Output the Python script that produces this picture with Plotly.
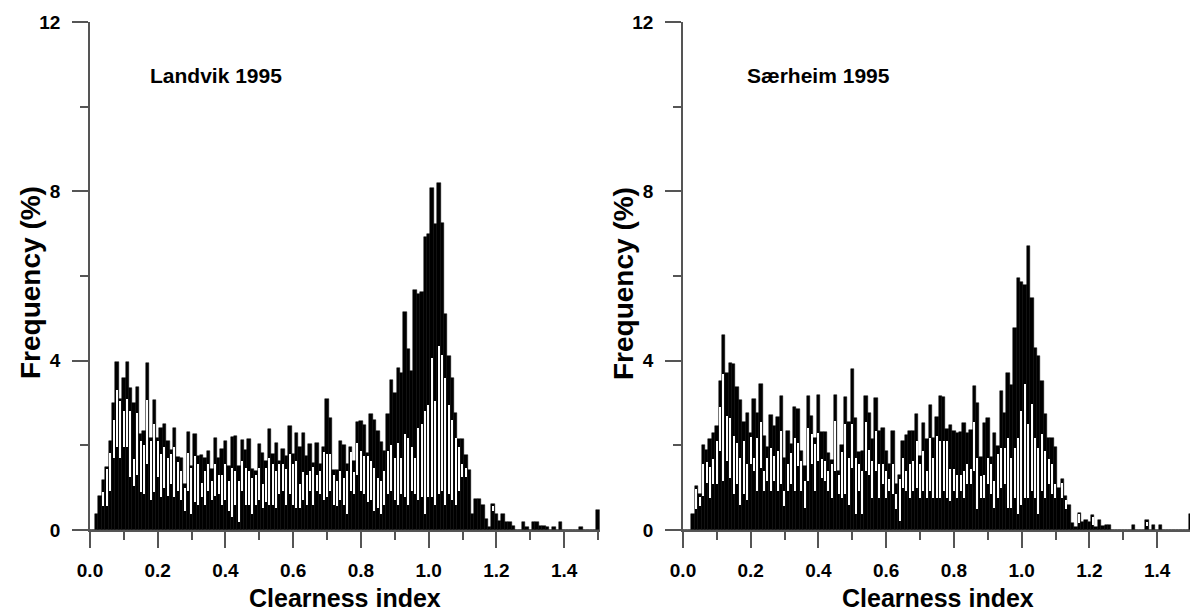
import plotly.graph_objects as go

# bin centres of the clearness-index histogram (0.00 ... 1.50, step 0.01)
BINS = [round(i * 0.01, 2) for i in range(151)]

# ---- Landvik 1995 : bar tops (%), white-stripe top and bottom (%)
L_TOP = [
    0, 0, 0.38, 0.81, 1.18, 1.50, 2.10, 3.00, 3.97, 3.10,
    3.60, 3.98, 3.36, 3.00, 3.38, 2.26, 2.35, 3.95, 2.18, 3.08,
    2.18, 2.42, 2.50, 2.10, 1.90, 2.40, 1.73, 1.70, 1.08, 2.31,
    1.51, 2.26, 1.75, 1.77, 1.70, 1.87, 1.44, 2.18, 1.71, 1.92,
    2.10, 1.51, 2.20, 2.22, 1.51, 2.13, 1.88, 2.16, 1.44, 1.40,
    2.02, 1.83, 1.63, 2.38, 1.79, 2.06, 1.63, 1.92, 1.75, 2.45,
    1.79, 2.30, 1.95, 2.30, 1.75, 2.04, 1.59, 2.06, 1.57, 1.96,
    3.10, 2.64, 1.41, 1.41, 2.10, 2.00, 1.55, 1.96, 1.63, 2.56,
    2.57, 2.47, 1.83, 2.75, 2.61, 2.34, 2.09, 1.87, 2.73, 3.55,
    3.24, 3.83, 3.71, 5.15, 4.27, 3.75, 5.68, 5.57, 5.62, 6.91,
    7.00, 8.08, 7.22, 8.20, 7.26, 5.10, 4.12, 3.59, 2.76, 2.16,
    2.14, 1.76, 1.41, 0.38, 0.73, 0.73, 0.60, 0.26, 0.06, 0.61,
    0.38, 0.22, 0.38, 0.18, 0.18, 0.10, 0, 0, 0.18, 0.08,
    0, 0.20, 0.20, 0.10, 0.10, 0.06, 0, 0.08, 0, 0.18,
    0, 0, 0, 0, 0, 0.08, 0, 0, 0, 0,
    0.47,
]
L_WTOP = [
    0, 0, 0, 0, 0.90, 1.45, 1.83, 2.60, 3.30, 3.05,
    2.80, 3.10, 2.80, 1.67, 2.77, 2.10, 2.00, 3.08, 2.10, 2.50,
    2.10, 1.80, 1.95, 1.70, 1.80, 1.95, 1.60, 1.40, 1.00, 1.83,
    1.47, 1.75, 1.55, 1.12, 1.40, 1.55, 1.16, 1.55, 1.30, 1.30,
    1.55, 1.16, 1.47, 1.40, 1.16, 1.63, 1.47, 1.40, 1.24, 1.30,
    1.47, 1.08, 1.47, 1.70, 1.55, 1.40, 1.55, 1.55, 1.44, 1.79,
    1.55, 1.63, 1.08, 1.36, 1.30, 1.40, 1.50, 1.30, 1.40, 1.85,
    1.79, 1.79, 1.30, 1.16, 1.40, 1.24, 1.40, 1.85, 1.36, 2.06,
    1.87, 1.75, 1.75, 1.63, 1.47, 1.24, 1.16, 1.40, 1.87, 2.00,
    1.70, 2.06, 1.70, 2.26, 2.18, 1.95, 1.70, 2.42, 2.50, 2.80,
    2.96, 4.06, 3.04, 4.34, 4.14, 3.60, 2.96, 2.60, 2.18, 1.95,
    1.55, 1.47, 0, 0, 0, 0, 0, 0, 0, 0.57,
    0, 0, 0, 0, 0, 0, 0, 0, 0, 0,
    0, 0, 0, 0, 0, 0, 0, 0, 0, 0,
    0, 0, 0, 0, 0, 0, 0, 0, 0, 0,
    0,
]
L_WBOT = [
    0, 0, 0, 0, 0.57, 0.57, 0.93, 1.70, 1.95, 1.70,
    1.95, 1.95, 1.25, 1.05, 1.30, 0.90, 0.85, 1.55, 0.70, 0.90,
    1.25, 0.77, 1.00, 0.80, 1.08, 0.77, 0.93, 0.70, 0.45, 0.93,
    0.38, 0.65, 0.60, 0.77, 0.60, 0.93, 0.70, 0.80, 0.85, 0.60,
    0.70, 0.45, 0.30, 0.60, 0.18, 0.93, 0.60, 0.60, 0.38, 0.60,
    0.70, 0.53, 0.65, 0.60, 0.60, 0.53, 0.85, 0.93, 0.60, 0.85,
    0.60, 0.53, 0.53, 0.70, 0.60, 0.93, 0.60, 0.93, 0.85, 0.70,
    0.77, 0.93, 0.60, 0.57, 0.70, 0.60, 0.38, 0.93, 0.85, 1.30,
    0.93, 0.85, 0.65, 0.70, 0.45, 0.53, 0.38, 0.60, 0.85, 0.93,
    0.70, 0.60, 0.85, 0.77, 0.60, 0.93, 0.85, 0.70, 0.77, 0.38,
    0.77, 0.77, 0.60, 0.85, 0.93, 0.60, 0.85, 0.70, 0.60, 0.93,
    1.25, 1.25, 0, 0, 0, 0, 0, 0, 0, 0.45,
    0, 0, 0, 0, 0, 0, 0, 0, 0, 0,
    0, 0, 0, 0, 0, 0, 0, 0, 0, 0,
    0, 0, 0, 0, 0, 0, 0, 0, 0, 0,
    0,
]

# ---- Særheim 1995
R_TOP = [
    0, 0, 0, 0.37, 1.04, 0.84, 2.00, 1.90, 2.14, 2.30,
    2.46, 3.52, 4.60, 3.70, 3.95, 3.92, 3.38, 3.07, 2.56, 2.76,
    2.30, 3.09, 2.77, 3.46, 2.22, 1.96, 2.71, 2.46, 2.68, 3.17,
    1.71, 2.35, 2.02, 2.90, 2.85, 1.87, 1.51, 3.16, 2.69, 2.18,
    3.20, 2.31, 2.31, 1.83, 1.66, 3.20, 1.39, 2.00, 3.15, 2.54,
    3.80, 2.64, 1.85, 1.87, 3.17, 2.77, 2.14, 3.11, 2.34, 2.40,
    1.87, 1.55, 2.35, 1.08, 1.30, 2.10, 2.24, 2.35, 2.35, 2.75,
    1.75, 2.52, 2.14, 2.95, 2.17, 2.67, 3.16, 3.15, 2.38, 2.47,
    2.35, 2.30, 2.31, 2.52, 2.30, 2.36, 3.40, 3.00, 1.73, 2.52,
    2.65, 1.73, 2.28, 1.98, 3.28, 2.77, 3.72, 3.43, 4.78, 5.96,
    5.87, 5.79, 6.72, 5.49, 4.29, 4.11, 3.52, 2.73, 2.18, 2.17,
    1.96, 1.00, 1.20, 0.80, 0.59, 0.17, 0.06, 0.41, 0.20, 0.24,
    0.20, 0.35, 0.06, 0.23, 0.10, 0.11, 0.11, 0, 0, 0,
    0, 0, 0, 0.11, 0, 0, 0, 0.24, 0, 0.11,
    0, 0.11, 0, 0, 0, 0, 0, 0, 0, 0,
    0.37,
]
R_WTOP = [
    0, 0, 0, 0, 0.96, 0.78, 1.55, 1.60, 1.50, 1.67,
    2.10, 2.90, 3.68, 2.70, 2.65, 2.22, 2.06, 1.71, 2.10, 1.55,
    2.20, 1.71, 2.18, 2.54, 1.39, 1.71, 1.94, 1.75, 1.87, 2.34,
    0.92, 1.55, 1.83, 2.18, 2.06, 1.63, 1.16, 2.42, 2.26, 2.02,
    2.30, 1.67, 1.63, 1.39, 1.55, 2.57, 1.31, 1.85, 2.50, 1.71,
    2.50, 1.71, 1.55, 1.39, 2.54, 1.90, 1.63, 2.34, 1.55, 1.55,
    1.39, 1.20, 1.55, 0.84, 1.20, 1.71, 1.39, 1.55, 1.63, 2.10,
    1.55, 1.87, 1.39, 2.18, 1.71, 2.22, 2.10, 2.10, 2.10, 1.43,
    1.43, 1.31, 1.31, 1.39, 1.55, 1.43, 2.54, 1.71, 1.28, 1.31,
    1.71, 1.55, 1.16, 1.79, 1.94, 1.94, 2.18, 1.71, 1.94, 2.18,
    2.81, 3.44, 2.50, 2.97, 2.18, 1.94, 2.26, 1.87, 1.67, 1.55,
    1.08, 0, 1.12, 0.70, 0, 0, 0, 0.37, 0, 0,
    0, 0.31, 0, 0, 0, 0, 0, 0, 0, 0,
    0, 0, 0, 0, 0, 0, 0, 0.20, 0, 0,
    0, 0, 0, 0, 0, 0, 0, 0, 0, 0,
    0,
]
R_WBOT = [
    0, 0, 0, 0, 0.49, 0.57, 0.80, 1.10, 0.76, 1.08,
    1.08, 1.87, 1.16, 1.63, 1.24, 0.84, 1.08, 0.60, 0.84, 0.72,
    1.55, 1.39, 0.92, 1.47, 0.92, 1.16, 0.92, 1.16, 0.92, 1.08,
    0.57, 0.92, 1.08, 0.92, 1.51, 0.92, 0.53, 1.16, 1.55, 0.92,
    1.63, 1.24, 1.16, 0.92, 0.76, 1.39, 0.84, 0.76, 0.84, 0.60,
    1.47, 0.37, 0.92, 0.37, 1.39, 1.31, 0.76, 1.39, 0.76, 1.08,
    0.76, 0.92, 0.84, 0.49, 0.21, 1.00, 0.92, 0.76, 0.92, 1.00,
    0.76, 0.92, 0.76, 0.92, 0.76, 0.76, 0.76, 0.92, 0.76, 0.68,
    0.92, 0.76, 0.92, 0.76, 1.08, 1.08, 1.39, 0.49, 0.76, 0.76,
    1.08, 0.84, 0.53, 0.76, 1.00, 1.08, 0.53, 0.53, 0.76, 0.37,
    0.60, 0.76, 0.76, 0.92, 0.76, 0.37, 0.92, 0.76, 1.08, 0.84,
    0.76, 0, 0.76, 0.49, 0, 0, 0, 0.17, 0, 0,
    0, 0.13, 0, 0, 0, 0, 0, 0, 0, 0,
    0, 0, 0, 0, 0, 0, 0, 0.10, 0, 0,
    0, 0, 0, 0, 0, 0, 0, 0, 0, 0,
    0,
]

PANEL_TITLES = ["Landvik 1995", "Særheim 1995"]
X_TITLE = "Clearness index"
Y_TITLE = "Frequency (%)"
X_TICKS = [0.0, 0.2, 0.4, 0.6, 0.8, 1.0, 1.2, 1.4]
X_TICKTEXT = ["0.0", "0.2", "0.4", "0.6", "0.8", "1.0", "1.2", "1.4"]
Y_TICKS = [0, 4, 8, 12]

for arr in (L_TOP, L_WTOP, L_WBOT, R_TOP, R_WTOP, R_WBOT):
    assert len(arr) == len(BINS)

W, H = 1198, 613
OFF = 8  # the page body margin shifts the figure by 8 px
FONT = "Arial, 'Liberation Sans', Helvetica, sans-serif"
AX = "#555555"

fig = go.Figure()

panels = [
    (L_TOP, L_WTOP, L_WBOT, "x", "y"),
    (R_TOP, R_WTOP, R_WBOT, "x2", "y2"),
]
for top, wtop, wbot, xa, ya in panels:
    fig.add_trace(go.Bar(
        x=BINS, y=top, width=0.01, xaxis=xa, yaxis=ya,
        marker=dict(color="black", line=dict(color="black", width=0.5)),
        showlegend=False, hoverinfo="skip",
    ))
    fig.add_trace(go.Bar(
        x=BINS, y=[t - b for t, b in zip(wtop, wbot)], base=wbot,
        width=0.004, xaxis=xa, yaxis=ya,
        marker=dict(color="white", line=dict(width=0)),
        showlegend=False, hoverinfo="skip",
    ))

def px_x(p):
    return (p - OFF) / W

def px_y(p):
    return 1 - (p - OFF) / H

xdom = [[px_x(90), px_x(599.7)], [px_x(683), px_x(1192.7)]]
ydom = [px_y(530), px_y(22)]

TICKFONT = dict(family=FONT, size=19, color="black", weight="bold")

common_x = dict(
    range=[0, 1.505], tickmode="array", tickvals=X_TICKS, ticktext=X_TICKTEXT,
    ticks="outside", ticklen=16, tickwidth=1.5, tickcolor=AX,
    showline=True, linecolor=AX, linewidth=1.5, showgrid=False, zeroline=False,
    minor=dict(dtick=0.1, tick0=0, ticks="outside", ticklen=8, tickwidth=1.5,
               tickcolor=AX, showgrid=False),
    tickfont=TICKFONT, automargin=False, ticklabelstandoff=6,
    fixedrange=True,
)
common_y = dict(
    range=[0, 12], tickmode="array", tickvals=Y_TICKS,
    ticks="outside", ticklen=16, tickwidth=1.5, tickcolor=AX,
    showline=True, linecolor=AX, linewidth=1.5, showgrid=False, zeroline=False,
    minor=dict(dtick=2, tick0=0, ticks="outside", ticklen=8, tickwidth=1.5,
               tickcolor=AX, showgrid=False),
    tickfont=TICKFONT, automargin=False, ticklabelstandoff=8,
    fixedrange=True,
)

annotations = []
for i, (x_axis0, title) in enumerate([(90, PANEL_TITLES[0]), (683, PANEL_TITLES[1])]):
    annotations.append(dict(
        text=title, x=px_x(148 if i == 0 else 745), y=px_y(75),
        xref="paper", yref="paper", xanchor="left", yanchor="middle", showarrow=False,
        font=dict(family=FONT, size=21, color="black", weight="bold")))
    annotations.append(dict(
        text=X_TITLE, x=px_x(x_axis0 + 255), y=px_y(598),
        xref="paper", yref="paper", xanchor="center", yanchor="middle", showarrow=False,
        font=dict(family=FONT, size=25, color="black", weight="bold")))
    annotations.append(dict(
        text=Y_TITLE, x=px_x(x_axis0 - 60), y=px_y(283), textangle=-90,
        xref="paper", yref="paper", xanchor="center", yanchor="middle", showarrow=False,
        font=dict(family=FONT, size=28, color="black", weight="bold")))

fig.update_layout(
    width=W, height=H,
    margin=dict(l=0, r=0, t=0, b=0, autoexpand=False),
    paper_bgcolor="white", plot_bgcolor="white",
    barmode="overlay", bargap=0,
    xaxis=dict(domain=xdom[0], anchor="y", **common_x),
    yaxis=dict(domain=ydom, anchor="x", **common_y),
    xaxis2=dict(domain=xdom[1], anchor="y2", **common_x),
    yaxis2=dict(domain=ydom, anchor="x2", **common_y),
    font=dict(family=FONT, color="black"),
    annotations=annotations,
)

fig.write_html("out.html", config={"displayModeBar": False})
